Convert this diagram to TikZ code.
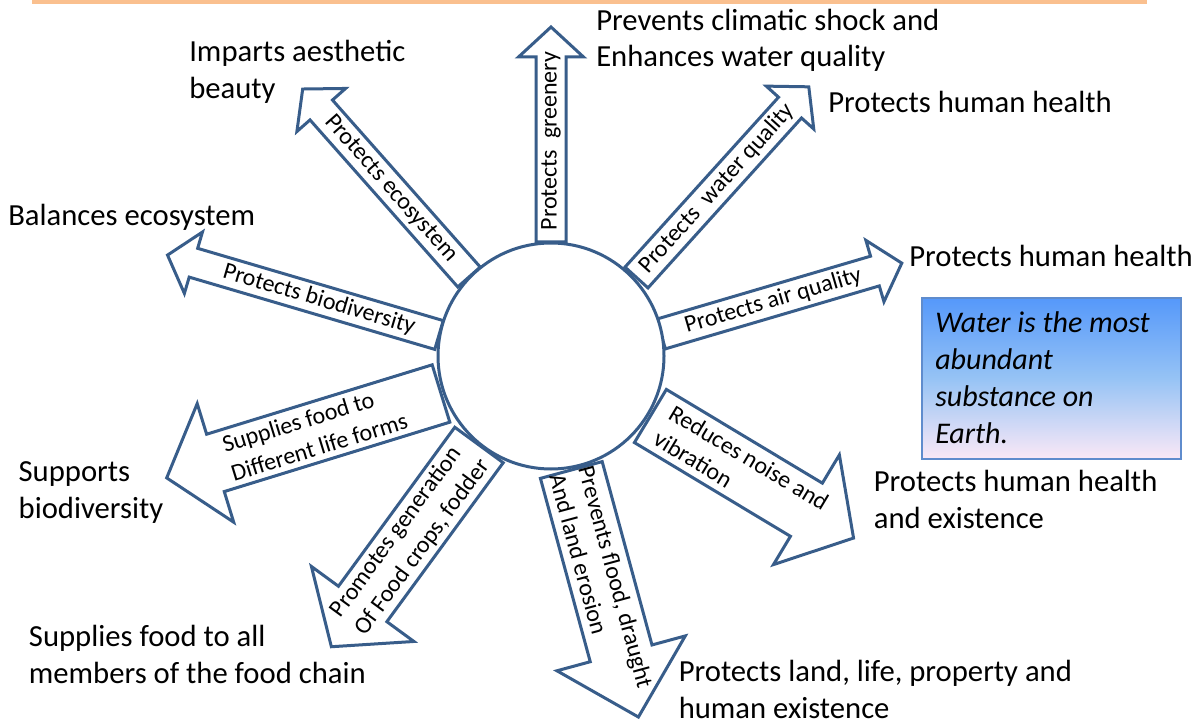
\documentclass[tikz,border=0pt]{standalone}
\usepackage{fontspec}
\setmainfont{Carlito}
\definecolor{ablue}{RGB}{56,93,138}
\definecolor{topline}{RGB}{250,192,143}
\definecolor{boxtop}{RGB}{85,152,250}
\definecolor{boxmid}{RGB}{150,195,245}
\definecolor{boxbot}{RGB}{250,232,246}
\definecolor{boxedge}{RGB}{95,140,205}
% #1 x, #2 y, #3 angle, #4 length, #5 shaft width, #6 head width, #7 head length, #8 label pos, #9 name
\newcommand{\blkarrow}[9]{%
  \begin{scope}[shift={(#1,#2)},rotate=#3]
    \draw[arrowshape] (0,-#5/2) -- ({#4-#7},-#5/2) -- ({#4-#7},-#6/2) -- (#4,0)
      -- ({#4-#7},#6/2) -- ({#4-#7},#5/2) -- (0,#5/2) -- cycle;
    \coordinate (#9s) at (0,0);
    \coordinate (#9t) at (#4,0);
    \coordinate (#9l) at (#8,0);
  \end{scope}}
\begin{document}
\begin{tikzpicture}[x=0.75pt,y=-0.75pt,
  arrowshape/.style={draw=ablue,line width=2.25pt,fill=white,line join=miter},
  hub/.style={circle,draw=ablue,line width=2.25pt,fill=white,minimum size=169.5pt,inner sep=0pt},
  lbl/.style={font=\fontsize{18}{22.5}\selectfont,align=left,inner sep=0pt},
  mainlbl/.style={font=\fontsize{23}{27.5}\selectfont,align=left,anchor=base west,inner sep=0pt},
  boxlbl/.style={font=\fontsize{22.5}{27.75}\selectfont\itshape,align=left,anchor=base west,inner sep=0pt}]
\useasboundingbox (0,0) rectangle (1199,723);
\fill[white] (0,0) rectangle (1199,723);
% top rule
\coordinate (r1) at (32,2);
\coordinate (r2) at (1147,2);
\draw[topline,line width=3pt] (r1) -- (r2);

% block arrows
\blkarrow{551}{242}{90}{215}{30}{65}{30}{101}{a1}
\blkarrow{469}{277}{131.5}{251}{30}{65}{28}{118}{a2}
\blkarrow{439}{335}{163.6}{283}{30}{64}{27}{125}{a3}
\blkarrow{636.5}{277.5}{47.9}{257}{31}{64}{28}{120}{a4}
\blkarrow{661}{334}{16.4}{251}{31}{64}{28}{117}{a5}
\blkarrow{441}{393.5}{197.1}{287}{60}{124}{51}{132}{a6}
\blkarrow{479}{445}{233.8}{250}{60}{127}{53}{116}{a7}
\blkarrow{571.3}{470}{285.2}{256}{64}{133}{66}{115}{a8}
\blkarrow{650.4}{416}{329}{237}{62}{128}{55}{106}{a9}

% central circle
\node[hub] (hub) at (551,356) {};

% arrow labels
\node[lbl,rotate=90] (l1) at (a1l) {Protects\ \ greenery};
\node[lbl,rotate=-48.5] (l2) at (a2l) {Protects ecosystem};
\node[lbl,rotate=-16.4] (l3) at (a3l) {Protects biodiversity};
\node[lbl,rotate=47.9] (l4) at (a4l) {Protects\ \ water quality};
\node[lbl,rotate=16.4] (l5) at (a5l) {Protects air quality};
\node[lbl,rotate=17.1] (l6) at (a6l) {Supplies food to\\Different life forms};
\node[lbl,rotate=53.8] (l7) at (a7l) {Promotes generation\\Of Food crops, fodder};
\node[lbl,rotate=-74.8] (l8) at (a8l) {Prevents flood, draught\\And land erosion};
\node[lbl,rotate=-31] (l9) at (a9l) {Reduces noise and\\vibration};

% outer labels (anchor = baseline of the last line)
\node[mainlbl] (t1) at (189,98.6) {Imparts aesthetic\\beauty};
\node[mainlbl] (t2) at (8,226) {Balances ecosystem};
\node[mainlbl] (t3) at (596,67) {Prevents climatic shock and\\Enhances water quality};
\node[mainlbl] (t4) at (828,112.7) {Protects human health};
\node[mainlbl] (t5) at (909,266.7) {Protects human health};
\node[mainlbl] (t6) at (18.4,518.3) {Supports\\biodiversity};
\node[mainlbl] (t7) at (28.7,683.3) {Supplies food to all\\members of the food chain};
\node[mainlbl] (t8) at (873.6,528.3) {Protects human health\\and existence};
\node[mainlbl] (t9) at (678.5,718.3) {Protects land, life, property and\\human existence};

% info box
\node[anchor=north west,minimum width=194.25pt,minimum height=120.75pt,inner sep=0pt,
      draw=boxedge,line width=1.2pt,top color=boxtop,bottom color=boxbot,middle color=boxmid] (box) at (921,297) {};
\node[boxlbl] (boxtxt) at (935,443) {Water is the most\\abundant\\substance on\\Earth.};
\end{tikzpicture}
\end{document}
